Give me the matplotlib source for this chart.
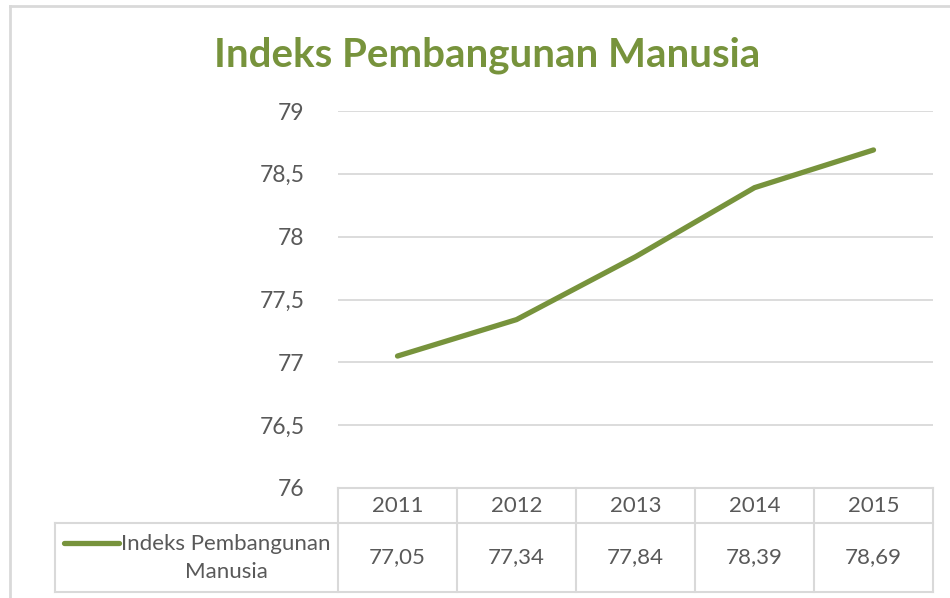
import matplotlib.pyplot as plt
from matplotlib.lines import Line2D

years = ['2011', '2012', '2013', '2014', '2015']
ipm = [77.05, 77.34, 77.84, 78.39, 78.69]
series_name = 'Indeks Pembangunan Manusia'
y_ticks = [76, 76.5, 77, 77.5, 78, 78.5, 79]

green = '#77933C'
grid_grey = '#D9D9D9'
text_grey = '#595959'
fs = 16

plt.rcParams['font.family'] = ['Lato', 'DejaVu Sans']

W, H = 950, 598
fig = plt.figure(figsize=(W / 100, H / 100), dpi=100)


def fx(px):
    return px / W


def fy(py):
    return 1 - py / H


# plot area
ax = fig.add_axes([fx(338), fy(488), fx(933) - fx(338), fy(111) - fy(488)])
x = list(range(len(years)))
ax.plot(x, ipm, color=green, linewidth=3.8, solid_capstyle='round', zorder=3)
ax.set_xlim(-0.5, len(years) - 0.5)
ax.set_ylim(76, 79)
ax.set_yticks(y_ticks)
ax.set_yticklabels([('%g' % v).replace('.', ',') for v in y_ticks])
ax.set_xticks([])
ax.tick_params(axis='y', length=0, pad=24, labelsize=16.5, labelcolor=text_grey)
ax.grid(axis='y', color=grid_grey, linewidth=1.3)
ax.set_axisbelow(True)
for s in ax.spines.values():
    s.set_visible(False)

# title
fig.text(fx(487), fy(55), series_name, ha='center', va='center',
         fontsize=29, fontweight='bold', color=green)

# chart border
fig.add_artist(Line2D([fx(10), fx(10)], [fy(6), fy(598)], color=grid_grey, lw=2))
fig.add_artist(Line2D([fx(10), fx(950)], [fy(6), fy(6)], color=grid_grey, lw=2))

# data table
cols = [338 + 119 * i for i in range(len(years) + 1)]
top, mid, bot = 488, 523, 592
tl = dict(color=grid_grey, lw=1.5)
fig.add_artist(Line2D([fx(338), fx(933)], [fy(top), fy(top)], **tl))
fig.add_artist(Line2D([fx(55), fx(933)], [fy(mid), fy(mid)], **tl))
fig.add_artist(Line2D([fx(55), fx(933)], [fy(bot), fy(bot)], **tl))
fig.add_artist(Line2D([fx(55), fx(55)], [fy(mid), fy(bot)], **tl))
for c in cols:
    fig.add_artist(Line2D([fx(c), fx(c)], [fy(top), fy(bot)], **tl))

for i, (yr, v) in enumerate(zip(years, ipm)):
    cx = (cols[i] + cols[i + 1]) / 2
    fig.text(fx(cx), fy(506), yr, ha='center', va='center', fontsize=fs, color=text_grey)
    fig.text(fx(cx), fy(557), ('%.2f' % v).replace('.', ','), ha='center', va='center',
             fontsize=fs, color=text_grey)

# legend key inside the table
fig.add_artist(Line2D([fx(64), fx(119)], [fy(543), fy(543)], color=green, lw=3.8,
                      solid_capstyle='round'))
fig.text(fx(226), fy(558), 'Indeks Pembangunan\nManusia', ha='center', va='center',
         fontsize=fs, color=text_grey, linespacing=1.45)

fig.savefig('out.png', dpi=100)
